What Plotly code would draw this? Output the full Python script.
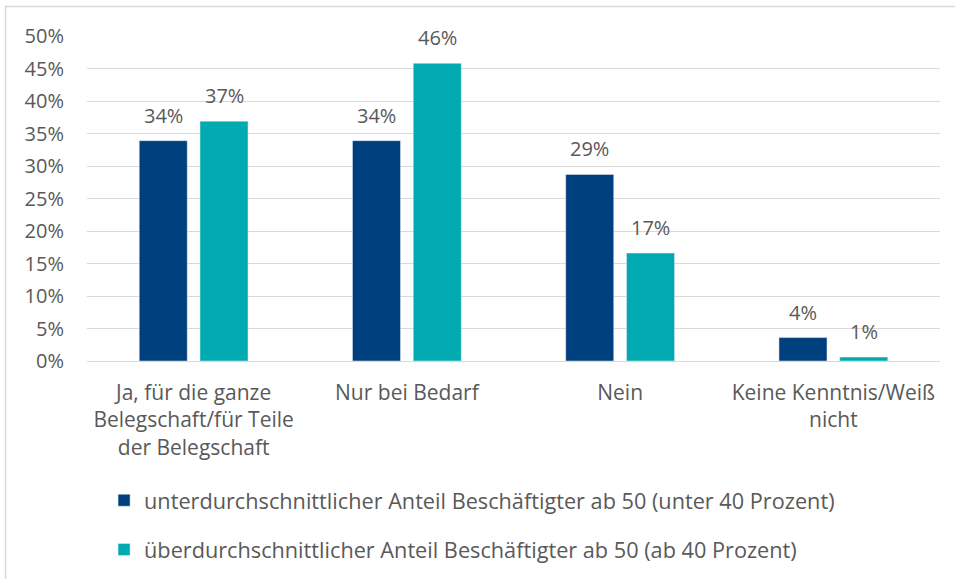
import plotly.graph_objects as go

# categories and shares
categories = [
    "Ja, für die ganze<br>Belegschaft/für Teile<br>der Belegschaft",
    "Nur bei Bedarf",
    "Nein",
    "Keine Kenntnis/Weiß<br>nicht",
]
unter_40 = [0.339, 0.339, 0.287, 0.036]
ab_40 = [0.369, 0.458, 0.166, 0.006]

name_unter = "unterdurchschnittlicher Anteil Beschäftigter ab 50 (unter 40 Prozent)"
name_ab = "überdurchschnittlicher Anteil Beschäftigter ab 50 (ab 40 Prozent)"

FONT = "Open Sans, sans-serif"
GREY = "#595959"
DARK = "#003F7D"
TEAL = "#00AAB0"

fig = go.Figure()
fig.add_trace(go.Bar(x=categories, y=unter_40, name=name_unter,
                     legendgroup="a", marker_color=DARK))
fig.add_trace(go.Bar(x=categories, y=ab_40, name=name_ab,
                     legendgroup="b", marker_color=TEAL))

# value labels sit a bit higher above the bars than plotly's outside text
for vals, shift in ((unter_40, -30.5), (ab_40, 30.5)):
    for cat, v in zip(categories, vals):
        fig.add_annotation(
            x=cat, y=v, text=f"{v:.0%}", showarrow=False,
            xshift=shift, yshift=10, yanchor="bottom",
            font=dict(family=FONT, size=20, color=GREY),
        )

fig.update_layout(
    width=955, height=579,
    margin=dict(l=87, r=15, t=36, b=218, autoexpand=False),
    paper_bgcolor="white", plot_bgcolor="white",
    font=dict(family=FONT, size=20, color=GREY),
    barmode="group", bargap=0.43, bargroupgap=0.21,
    showlegend=True,
    legend=dict(
        orientation="v", x=0.02, xanchor="left", y=-0.365, yanchor="top",
        font=dict(size=21.7, color=GREY), tracegroupgap=18,
        itemwidth=30,
    ),
    # light frame: only top and left edges fall inside the picture
    shapes=[dict(
        type="rect", xref="paper", yref="paper",
        x0=-0.0955, x1=1.2, y0=-1.0, y1=1.0905,
        line=dict(color="#D9D9D9", width=1.5), fillcolor="rgba(0,0,0,0)",
    )],
)
fig.update_yaxes(
    range=[0, 0.5], dtick=0.05, tickformat=".0%",
    showgrid=True, gridcolor="#D9D9D9", gridwidth=1,
    zeroline=True, zerolinecolor="#D9D9D9", zerolinewidth=1,
    showline=False, ticks="", ticklabelstandoff=22,
    tickfont=dict(size=20, color=GREY),
)
fig.update_xaxes(
    showgrid=False, showline=False, ticks="",
    tickfont=dict(size=21, color=GREY), ticklabelstandoff=17,
)

fig.write_html(
    "out.html",
    config={"displayModeBar": False},
    post_script="document.body.style.margin='0px';document.body.style.overflow='hidden';",
)
